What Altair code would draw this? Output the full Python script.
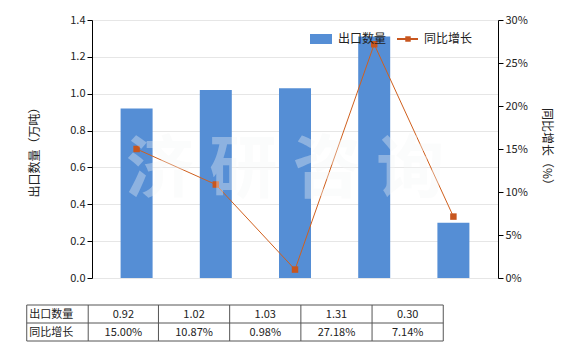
import altair as alt
import pandas as pd

categories = ["2014年", "2015年", "2016年", "2017年", "2018年1-3月"]
export_qty = [0.92, 1.02, 1.03, 1.31, 0.30]
growth_pct = [15.00, 10.87, 0.98, 27.18, 7.14]
qty_labels = ["0.92", "1.02", "1.03", "1.31", "0.30"]
growth_labels = ["15.00%", "10.87%", "0.98%", "27.18%", "7.14%"]
row_names = ["出口数量", "同比增长"]
left_ticks = [0, 0.2, 0.4, 0.6, 0.8, 1.0, 1.2, 1.4]
right_ticks = [0, 5, 10, 15, 20, 25, 30]

FONT = "Noto Sans CJK SC"
BLUE = "#558ED5"
ORANGE = "#C8561E"
TXT = "#222222"
GRID = "#555555"

df = pd.DataFrame({"idx": list(range(len(categories))), "cat": categories,
                   "qty": export_qty, "growth": growth_pct})

xscale = alt.Scale(domain=[-0.5, 4.5], nice=False, zero=False)
cat_expr = "[" + ",".join("'" + c + "'" for c in categories) + "][datum.value]"

bars = alt.Chart(df).mark_bar(size=32, color=BLUE).encode(
    x=alt.X("idx:Q", scale=xscale,
            axis=alt.Axis(title=None, values=list(range(len(categories))),
                          labelExpr=cat_expr, labelAngle=0, domainColor="#000",
                          tickColor="#000", tickSize=4, labelFont=FONT,
                          labelFontSize=11, labelColor=TXT, labelPadding=3,
                          grid=False, labelFlush=False, labelOverlap=False)),
    y=alt.Y("qty:Q", scale=alt.Scale(domain=[0, 1.4], nice=False),
            axis=alt.Axis(title="出口数量（万吨）", values=left_ticks, format=".1f",
                          grid=True, gridColor="#e6e6e6", domainColor="#000",
                          tickColor="#000", tickSize=5, labelFont=FONT,
                          labelFontSize=11, labelColor=TXT, titleFont=FONT,
                          titleFontSize=12, titleFontWeight="normal",
                          titleColor=TXT, titlePadding=28)),
)

yr_scale = alt.Scale(domain=[0, 30], nice=False)
line = alt.Chart(df).mark_line(color="#D0601E", strokeWidth=1).encode(
    x=alt.X("idx:Q", scale=xscale, axis=None),
    y=alt.Y("growth:Q", scale=yr_scale,
            axis=alt.Axis(orient="right", title="同比增长（%）", values=right_ticks,
                          labelExpr="datum.value + '%'", grid=False,
                          domainColor="#000", tickColor="#000", tickSize=5,
                          labelFont=FONT, labelFontSize=11, labelColor=TXT,
                          titleFont=FONT, titleFontSize=12, titleFontWeight="normal",
                          titleColor=TXT, titleAngle=90, titlePadding=12)),
)
points = alt.Chart(df).mark_point(shape="square", filled=True, size=42,
                                  color=ORANGE, opacity=1).encode(
    x=alt.X("idx:Q", scale=xscale, axis=None),
    y=alt.Y("growth:Q", scale=yr_scale, axis=None),
)

# ---- data table below the chart (grid positions in category-index units) ----
col_bounds = [-1.387, -0.611, 0.276, 1.175, 2.074, 2.973, 3.872]
ROW_TOP, ROW_MID, ROW_BOT = 285, 303, 321

vr = alt.Chart(pd.DataFrame({"b": col_bounds})).mark_rule(color=GRID, strokeWidth=1).encode(
    x=alt.X("b:Q", scale=xscale, axis=None),
    y=alt.value(ROW_TOP), y2=alt.value(ROW_BOT),
)
hrow = pd.DataFrame({"b0": [col_bounds[0]], "b1": [col_bounds[-1]]})
hrules = [
    alt.Chart(hrow).mark_rule(color=GRID, strokeWidth=1).encode(
        x=alt.X("b0:Q", scale=xscale, axis=None), x2="b1:Q", y=alt.value(yy))
    for yy in (ROW_TOP, ROW_MID, ROW_BOT)
]

centers = [(col_bounds[i + 1] + col_bounds[i + 2]) / 2 for i in range(len(categories))]
row1 = pd.DataFrame({"c": centers, "t": qty_labels})
row2 = pd.DataFrame({"c": centers, "t": growth_labels})
txt1 = alt.Chart(row1).mark_text(font=FONT, fontSize=11, color=TXT,
                                 baseline="middle", align="center").encode(
    x=alt.X("c:Q", scale=xscale, axis=None), y=alt.value((ROW_TOP + ROW_MID) / 2 + 1),
    text="t:N")
txt2 = alt.Chart(row2).mark_text(font=FONT, fontSize=11, color=TXT,
                                 baseline="middle", align="center").encode(
    x=alt.X("c:Q", scale=xscale, axis=None), y=alt.value((ROW_MID + ROW_BOT) / 2 + 1),
    text="t:N")
nm = pd.DataFrame({"c": [col_bounds[0] + 0.03]})
name1 = alt.Chart(nm).mark_text(text=row_names[0], font=FONT, fontSize=11, color=TXT,
                                baseline="middle", align="left").encode(
    x=alt.X("c:Q", scale=xscale, axis=None), y=alt.value((ROW_TOP + ROW_MID) / 2 + 1))
name2 = alt.Chart(nm).mark_text(text=row_names[1], font=FONT, fontSize=11, color=TXT,
                                baseline="middle", align="left").encode(
    x=alt.X("c:Q", scale=xscale, axis=None), y=alt.value((ROW_MID + ROW_BOT) / 2 + 1))

# ---- legend ----
one = pd.DataFrame({"a": [0]})
leg_rect = alt.Chart(one).mark_rect(color=BLUE).encode(
    x=alt.value(218), x2=alt.value(240), y=alt.value(14), y2=alt.value(24))
leg_t1 = alt.Chart(one).mark_text(text="出口数量", font=FONT, fontSize=12, color=TXT,
                                  align="left", baseline="middle").encode(
    x=alt.value(246), y=alt.value(19))
leg_line = alt.Chart(one).mark_rule(color=ORANGE, strokeWidth=2).encode(
    x=alt.value(305), x2=alt.value(326), y=alt.value(19))
leg_pt = alt.Chart(one).mark_point(shape="square", filled=True, size=30, color=ORANGE,
                                   opacity=1).encode(x=alt.value(316), y=alt.value(19))
leg_t2 = alt.Chart(one).mark_text(text="同比增长", font=FONT, fontSize=12, color=TXT,
                                  align="left", baseline="middle").encode(
    x=alt.value(332), y=alt.value(19))

# ---- watermark ----
wm = alt.Chart(one).mark_text(text="济 研 咨 询", font=FONT, fontSize=68,
                              fontWeight="bold", color="#F6F7F7", opacity=0.35,
                              align="center", baseline="middle").encode(
    x=alt.value(193), y=alt.value(152))

chart = alt.layer(
    bars, line, points, vr, *hrules, txt1, txt2, name1, name2,
    leg_rect, leg_t1, leg_line, leg_pt, leg_t2, wm
).resolve_scale(y="independent").properties(
    width=406, height=258,
    autosize=alt.AutoSizeParams(type="none"),
    padding={"left": 92, "top": 20, "right": 82, "bottom": 72},
).configure_view(stroke=None).configure(background="white")

chart.save("out.html", embed_options={"renderer": "svg", "actions": False})
